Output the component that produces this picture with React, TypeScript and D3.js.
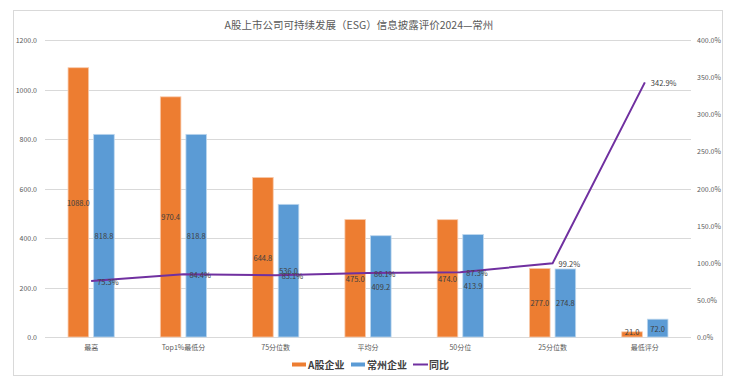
import React, { useRef, useEffect } from "react";
import * as d3 from "d3";

const categories = ["最高", "Top1%最低分", "75分位数", "平均分", "50分位", "25分位数", "最低评分"];
const aShareValues = [1088.0, 970.4, 644.8, 475.0, 474.0, 277.0, 21.0];
const changzhouValues = [818.8, 818.8, 536.0, 409.2, 413.9, 274.8, 72.0];
const ratioValues = [75.3, 84.4, 83.1, 86.1, 87.3, 99.2, 342.9];
const leftTicks = [0, 200, 400, 600, 800, 1000, 1200];
const rightTicks = [0, 50, 100, 150, 200, 250, 300, 350, 400];
const seriesNames = ["A股企业", "常州企业", "同比"];

const FONT = '"Noto Sans CJK SC", "Noto Sans", sans-serif';
const ORANGE = "#ed7d31";
const BLUE = "#5b9bd5";
const PURPLE = "#7030a0";

const App = () => {
    const chartRef = useRef<SVGSVGElement>(null);

    useEffect(() => {
        drawChart();
    }, []);

    const drawChart = () => {
        if (!chartRef.current) return;
        const svg = d3.select(chartRef.current);
        svg.selectAll("*").remove();

        const left = 45, right = 691, top = 40, bottom = 337;

        // frame
        svg.append("rect")
            .attr("x", 13.5).attr("y", 10.5)
            .attr("width", 709).attr("height", 365)
            .attr("fill", "#fff")
            .attr("stroke", "#d9d9d9");

        svg.append("text")
            .attr("x", 359).attr("y", 24)
            .attr("text-anchor", "middle")
            .attr("dominant-baseline", "central")
            .style("font-family", FONT)
            .style("font-size", "10.5px")
            .style("fill", "#595959")
            .text("A股上市公司可持续发展（ESG）信息披露评价2024—常州");

        const x = d3.scaleBand().domain(categories).range([left, right]);
        const y = d3.scaleLinear().domain([0, 1200]).range([bottom, top]);
        const y2 = d3.scaleLinear().domain([0, 400]).range([bottom, top]);

        // grid
        svg.append("g")
            .selectAll("line")
            .data(leftTicks)
            .enter()
            .append("line")
            .attr("x1", left).attr("x2", right)
            .attr("y1", (d) => Math.round(y(d)) + 0.5)
            .attr("y2", (d) => Math.round(y(d)) + 0.5)
            .attr("stroke", "#d9d9d9");

        const axisText = (sel) => sel
            .style("font-family", FONT)
            .style("font-size", "7px")
            .style("fill", "#595959");

        svg.append("g")
            .selectAll("text")
            .data(leftTicks)
            .enter()
            .append("text")
            .attr("x", 37).attr("y", (d) => y(d))
            .attr("text-anchor", "end")
            .attr("dominant-baseline", "central")
            .call(axisText)
            .text((d) => d.toFixed(1));

        svg.append("g")
            .selectAll("text")
            .data(rightTicks)
            .enter()
            .append("text")
            .attr("x", 697).attr("y", (d) => y2(d))
            .attr("text-anchor", "start")
            .attr("dominant-baseline", "central")
            .call(axisText)
            .text((d) => d.toFixed(1) + "%");

        svg.append("g")
            .selectAll("text")
            .data(categories)
            .enter()
            .append("text")
            .attr("x", (d) => x(d) + x.bandwidth() / 2)
            .attr("y", 347)
            .attr("text-anchor", "middle")
            .attr("dominant-baseline", "central")
            .call(axisText)
            .text((d) => d);

        const barW = 20.6, gap = 5;
        const groups = [
            { values: aShareValues, color: ORANGE, stroke: "#f8cbad", offset: -gap / 2 - barW },
            { values: changzhouValues, color: BLUE, stroke: "#bdd7ee", offset: gap / 2 },
        ];

        groups.forEach((g) => {
            svg.append("g")
                .selectAll("rect")
                .data(g.values)
                .enter()
                .append("rect")
                .attr("x", (d, i) => x(categories[i]) + x.bandwidth() / 2 + g.offset)
                .attr("y", (d) => y(d))
                .attr("width", barW)
                .attr("height", (d) => bottom - y(d))
                .attr("fill", g.color)
                .attr("stroke", g.stroke)
                .attr("stroke-width", 0.8);
        });

        // line
        const line = d3.line<number>()
            .x((d, i) => x(categories[i]) + x.bandwidth() / 2)
            .y((d) => y2(d));

        svg.append("path")
            .datum(ratioValues)
            .attr("d", line)
            .attr("fill", "none")
            .attr("stroke", PURPLE)
            .attr("stroke-width", 2);

        const labelText = (sel) => sel
            .style("font-family", FONT)
            .style("font-size", "7.5px")
            .style("fill", "#404040");

        groups.forEach((g) => {
            svg.append("g")
                .selectAll("text")
                .data(g.values)
                .enter()
                .append("text")
                .attr("x", (d, i) => x(categories[i]) + x.bandwidth() / 2 + g.offset + barW / 2)
                .attr("y", (d) => Math.min((y(d) + bottom) / 2, bottom - 6))
                .attr("text-anchor", "middle")
                .attr("dominant-baseline", "central")
                .call(labelText)
                .text((d) => d.toFixed(1));
        });

        svg.append("g")
            .selectAll("text")
            .data(ratioValues)
            .enter()
            .append("text")
            .attr("x", (d, i) => x(categories[i]) + x.bandwidth() / 2 + 6)
            .attr("y", (d) => y2(d))
            .attr("text-anchor", "start")
            .attr("dominant-baseline", "central")
            .call(labelText)
            .text((d) => d.toFixed(1) + "%");

        // legend
        const legend = [
            { name: seriesNames[0], color: ORANGE, x: 292, type: "box" },
            { name: seriesNames[1], color: BLUE, x: 351, type: "box" },
            { name: seriesNames[2], color: PURPLE, x: 413, type: "line" },
        ];
        legend.forEach((l) => {
            if (l.type === "box") {
                svg.append("rect")
                    .attr("x", l.x).attr("y", 362.5)
                    .attr("width", 14).attr("height", 4)
                    .attr("fill", l.color);
            } else {
                svg.append("line")
                    .attr("x1", l.x).attr("x2", l.x + 15)
                    .attr("y1", 364.5).attr("y2", 364.5)
                    .attr("stroke", l.color)
                    .attr("stroke-width", 2);
            }
            svg.append("text")
                .attr("x", l.x + 16).attr("y", 364.5)
                .attr("dominant-baseline", "central")
                .style("font-family", FONT)
                .style("font-size", "10px")
                .style("font-weight", "bold")
                .style("fill", "#404040")
                .text(l.name);
        });
    };

    return (
        <svg
            ref={chartRef}
            width={737}
            height={384}
            style={{ position: "absolute", left: 0, top: 0, background: "#fff" }}
        />
    );
};

export default App;
